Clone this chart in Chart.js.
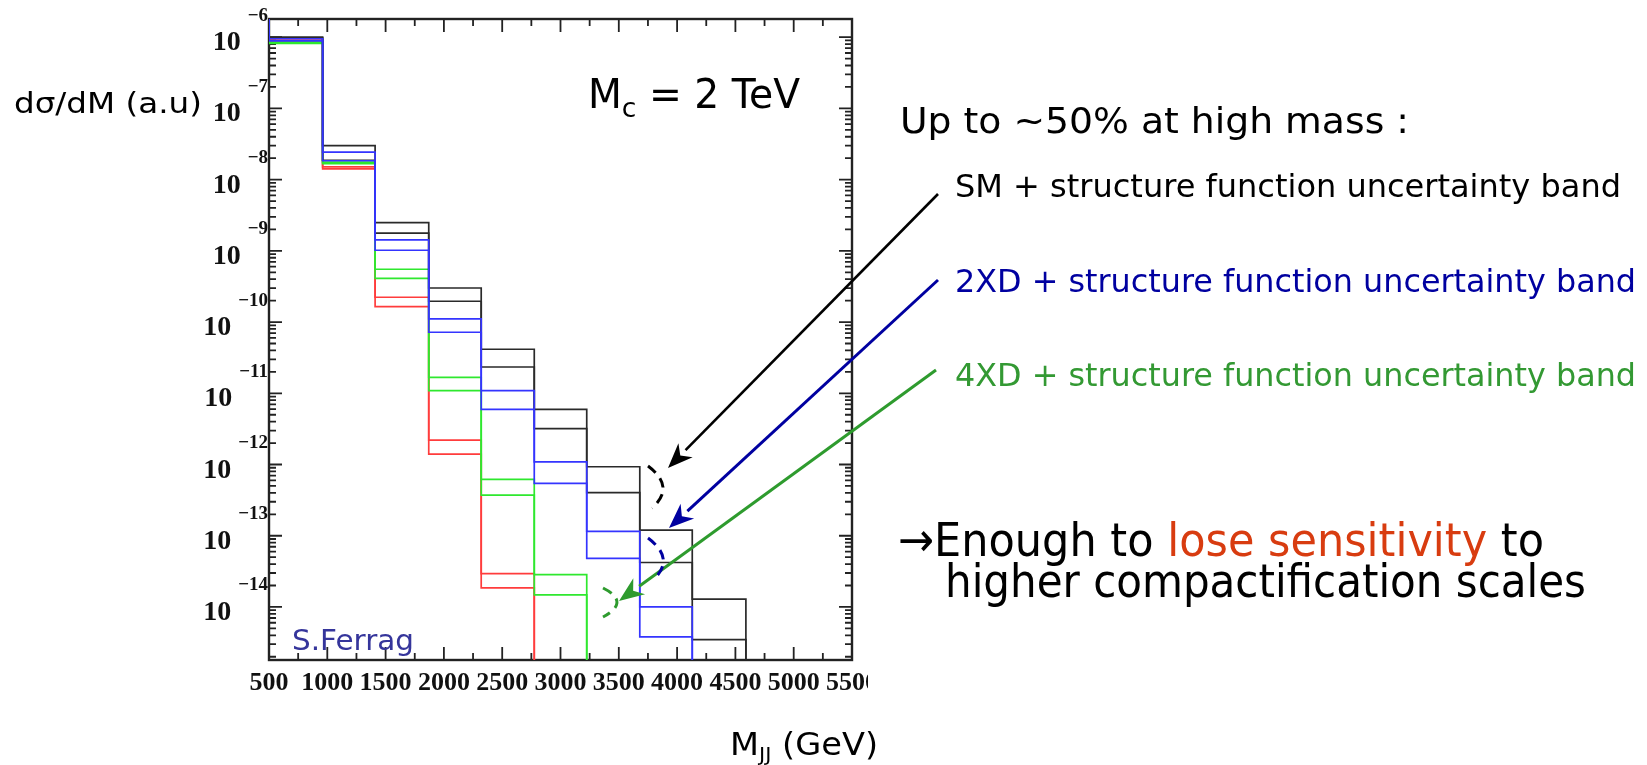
<!DOCTYPE html>
<html>
<head>
<meta charset="utf-8">
<title>dσ/dM vs MJJ</title>
<script src="https://cdn.jsdelivr.net/npm/chart.js@4.4.1/dist/chart.umd.min.js"></script>
<style>
    html, body { margin: 0; padding: 0; background: #fff; }
    #wrap { width: 1647px; height: 765px; }
</style>
</head>
<body>
<div id="wrap"><canvas id="myChart" width="1647" height="765"></canvas></div>
<script>
// dijet mass bins (GeV)
const binEdges = [500, 960, 1410, 1870, 2320, 2775, 3225, 3680, 4130, 4590];

// band edges per bin, null = below the plotted range
const smUpper  = [1.0e-6, 3.0e-8, 2.49e-9, 3.01e-10, 4.15e-11, 5.95e-12, 9.3e-13, 1.2e-13, 1.29e-14];
const smLower  = [9.75e-7, 1.87e-8, 1.77e-9, 1.96e-10, 2.34e-11, 3.2e-12, 4.03e-13, 4.21e-14, 3.48e-15];
const xd2Upper = [9.5e-7, 2.44e-8, 1.43e-9, 1.11e-10, 1.09e-11, 1.09e-12, 1.15e-13, 1.0e-14, null];
const xd2Lower = [8.9e-7, 1.84e-8, 1.02e-9, 7.2e-11, 5.95e-12, 5.44e-13, 4.81e-14, 3.79e-15, null];
const xd4Upper = [8.5e-7, 1.76e-8, 5.52e-10, 1.67e-11, 6.18e-13, 2.85e-14, null, null, null];
const xd4Lower = [8.2e-7, 1.68e-8, 4.1e-10, 1.09e-11, 3.72e-13, 1.48e-14, null, null, null];
const xd6Upper = [9.1e-7, 1.51e-8, 2.23e-10, 2.2e-12, 2.94e-14, null, null, null, null];
const xd6Lower = [8.8e-7, 1.42e-8, 1.65e-10, 1.4e-12, 1.85e-14, null, null, null, null];

const xTickLabels = [500, 1000, 1500, 2000, 2500, 3000, 3500, 4000, 4500, 5000, 5500];
const yExponents = [-6, -7, -8, -9, -10, -11, -12, -13, -14];
const yMin = 1.8e-15;
const yMax = 1.8e-6;

// histogram outline: drops in from the top, steps bin by bin, falls to the floor
function stepPath(values) {
    const pts = [{x: binEdges[0], y: yMax}];
    for (let i = 0; i < values.length; i++) {
        if (values[i] === null) {
            pts.push({x: binEdges[i], y: yMin});
            return pts;
        }
        pts.push({x: binEdges[i], y: values[i]});
        pts.push({x: binEdges[i + 1], y: values[i]});
    }
    pts.push({x: binEdges[values.length], y: yMin});
    return pts;
}

// first entry is painted last (on top)
const bands = [
    {label: '2XD up', values: xd2Upper, color: '#3434ff'},
    {label: '2XD low', values: xd2Lower, color: '#3434ff'},
    {label: 'SM up', values: smUpper, color: '#2a2a2a'},
    {label: 'SM low', values: smLower, color: '#2a2a2a'},
    {label: '4XD up', values: xd4Upper, color: '#2ee82e'},
    {label: '4XD low', values: xd4Lower, color: '#2ee82e'},
    {label: '6XD up', values: xd6Upper, color: '#ff3c3c'},
    {label: '6XD low', values: xd6Lower, color: '#ff3c3c'}
];

// text squeezed or widened to a given width
function stretchText(ctx, parts, x, baseline, width) {
    let natural = 0;
    parts.forEach(p => {
        ctx.font = p.font;
        p.w = ctx.measureText(p.text).width;
        natural += p.w;
    });
    ctx.save();
    ctx.translate(x, baseline);
    ctx.scale(width / natural, 1);
    ctx.textAlign = 'left';
    ctx.textBaseline = 'alphabetic';
    let cx = 0;
    parts.forEach(p => {
        ctx.font = p.font;
        ctx.fillStyle = p.color || '#000';
        ctx.fillText(p.text, cx, p.dy || 0);
        cx += p.w;
    });
    ctx.restore();
}

function arrow(ctx, x0, y0, x1, y1, color, width) {
    const ang = Math.atan2(y1 - y0, x1 - x0);
    const len = 25, half = 10;
    const bx = x1 - len * Math.cos(ang), by = y1 - len * Math.sin(ang);
    ctx.strokeStyle = color;
    ctx.fillStyle = color;
    ctx.lineWidth = width;
    ctx.beginPath();
    ctx.moveTo(x0, y0);
    ctx.lineTo(bx, by);
    ctx.stroke();
    ctx.beginPath();
    ctx.moveTo(x1, y1);
    ctx.lineTo(bx + half * Math.sin(ang), by - half * Math.cos(ang));
    ctx.lineTo(bx + 0.3 * len * Math.cos(ang), by + 0.3 * len * Math.sin(ang));
    ctx.lineTo(bx - half * Math.sin(ang), by + half * Math.cos(ang));
    ctx.closePath();
    ctx.fill();
}

function dashedArc(ctx, x0, y0, cx, cy, x1, y1, color) {
    ctx.save();
    ctx.strokeStyle = color;
    ctx.lineWidth = 3;
    ctx.setLineDash([10, 7]);
    ctx.beginPath();
    ctx.moveTo(x0, y0);
    ctx.quadraticCurveTo(cx, cy, x1, y1);
    ctx.stroke();
    ctx.restore();
}

const frameTicks = {
    id: 'frameTicks',
    beforeDatasetsDraw(chart) {
        const {ctx, chartArea: a, scales: {x, y}} = chart;
        ctx.save();
        ctx.strokeStyle = '#222';
        ctx.lineWidth = 1.8;
        ctx.beginPath();
        xTickLabels.forEach((v, i) => {
            const px = x.getPixelForValue(v);
            ctx.moveTo(px, a.bottom); ctx.lineTo(px, a.bottom - 13);
            ctx.moveTo(px, a.top); ctx.lineTo(px, a.top + 13);
            if (i < xTickLabels.length - 1) {
                const pm = x.getPixelForValue((v + xTickLabels[i + 1]) / 2);
                ctx.moveTo(pm, a.bottom); ctx.lineTo(pm, a.bottom - 7);
                ctx.moveTo(pm, a.top); ctx.lineTo(pm, a.top + 7);
            }
        });
        for (let e = -15; e <= -6; e++) {
            for (let k = 1; k <= 9; k++) {
                const v = k * Math.pow(10, e);
                if (v < yMin || v > yMax) continue;
                const py = y.getPixelForValue(v);
                const len = k === 1 ? 13 : 7;
                ctx.moveTo(a.left, py); ctx.lineTo(a.left + len, py);
                ctx.moveTo(a.right, py); ctx.lineTo(a.right - len, py);
            }
        }
        ctx.stroke();
        ctx.lineWidth = 2.4;
        ctx.strokeRect(a.left, a.top, a.right - a.left, a.bottom - a.top);
        ctx.restore();
    },
    afterDraw(chart) {
        const {ctx, chartArea: a, scales: {x, y}} = chart;
        ctx.save();
        ctx.fillStyle = '#111';

        // x tick labels, cut off at the right like the original plot
        ctx.save();
        ctx.beginPath();
        ctx.rect(0, a.bottom + 2, 868, 60);
        ctx.clip();
        ctx.font = 'bold 26px "Liberation Serif"';
        ctx.textAlign = 'center';
        ctx.textBaseline = 'alphabetic';
        xTickLabels.forEach(v => {
            ctx.fillText(String(v), x.getPixelForValue(v), a.bottom + 30);
        });
        ctx.restore();

        // y tick labels as 10 with a raised exponent
        ctx.textAlign = 'right';
        yExponents.forEach(e => {
            const py = y.getPixelForValue(Math.pow(10, e));
            const expText = '\u2212' + Math.abs(e);
            ctx.font = 'bold 19px "Liberation Serif"';
            const expW = ctx.measureText(expText).width;
            ctx.fillText(expText, a.left - 1, py - 16.5);
            ctx.font = 'bold 28px "Liberation Serif"';
            ctx.fillText('10', a.left - 1 - expW - 7, py + 13);
        });

        const sans = px => px + 'px "DejaVu Sans"';
        stretchText(ctx, [{text: 'd\u03c3/dM (a.u)', font: sans(28)}], 14, 113, 188);
        stretchText(ctx, [
            {text: 'M', font: sans(40)},
            {text: 'c', font: sans(27), dy: 9},
            {text: ' = 2 TeV', font: sans(40)}
        ], 588, 108, 212);
        stretchText(ctx, [{text: 'S.Ferrag', font: sans(29), color: '#35359b'}], 292, 650, 122);
        stretchText(ctx, [
            {text: 'M', font: sans(32)},
            {text: 'JJ', font: sans(20), dy: 6},
            {text: ' (GeV)', font: sans(32)}
        ], 730, 755, 148);

        stretchText(ctx, [{text: 'Up to ~50% at high mass :', font: sans(35)}], 900, 133, 509);
        stretchText(ctx, [{text: 'SM + structure function uncertainty band', font: sans(32)}], 955, 197, 666);
        stretchText(ctx, [{text: '2XD + structure function uncertainty band', font: sans(32), color: '#0000a0'}], 955, 292, 681);
        stretchText(ctx, [{text: '4XD + structure function uncertainty band', font: sans(32), color: '#339933'}], 955, 386, 681);
        stretchText(ctx, [
            {text: '\u2192Enough to ', font: sans(47)},
            {text: 'lose sensitivity', font: sans(47), color: '#d83c10'},
            {text: ' to', font: sans(47)}
        ], 898, 556, 646);
        stretchText(ctx, [{text: 'higher compactification scales', font: sans(46)}], 945, 597, 641);

        // pointers from the legend lines to the bands
        arrow(ctx, 938, 194, 668, 468, '#000', 2.6);
        arrow(ctx, 938, 280, 669, 528, '#0000a0', 3);
        arrow(ctx, 936, 370, 619, 601, '#2e9b2e', 3);
        dashedArc(ctx, 648, 466, 676, 487, 652, 508, '#000');
        dashedArc(ctx, 648, 538, 676, 559, 653, 580, '#0000a0');
        dashedArc(ctx, 603, 588, 631, 602, 603, 617, '#2e9b2e');
        ctx.restore();
    }
};

let ctx = document.getElementById('myChart').getContext('2d');
let myChart = new Chart(ctx, {
    type: 'line',
    data: {
        datasets: bands.map(b => ({
            label: b.label,
            data: stepPath(b.values),
            borderColor: b.color,
            borderWidth: 1.7,
            pointRadius: 0,
            tension: 0,
            fill: false
        }))
    },
    options: {
        responsive: false,
        animation: false,
        layout: { padding: { left: 269, top: 19, right: 795, bottom: 105 } },
        scales: {
            x: { type: 'linear', min: 500, max: 5500, display: false },
            y: { type: 'logarithmic', min: yMin, max: yMax, display: false }
        },
        plugins: {
            legend: { display: false },
            tooltip: { enabled: false }
        }
    },
    plugins: [frameTicks]
});
</script>
</body>
</html>
